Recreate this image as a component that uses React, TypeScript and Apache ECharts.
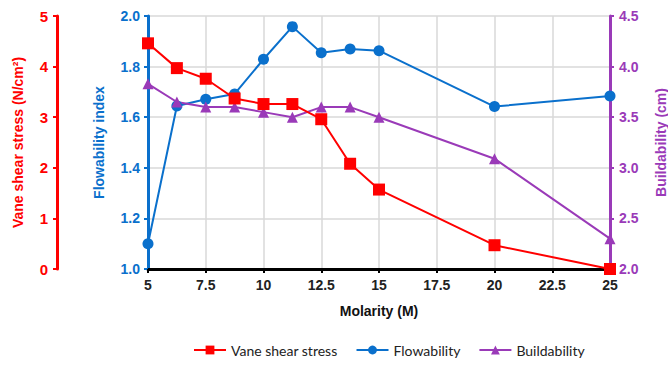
import React, { useEffect, useRef } from "react";
import * as echarts from "echarts";

const molarity = [5, 6.25, 7.5, 8.75, 10, 11.25, 12.5, 13.75, 15, 20, 25];
const vaneShear = [4.46, 3.97, 3.76, 3.37, 3.26, 3.26, 2.96, 2.08, 1.57, 0.47, 0.0];
const flowability = [1.1, 1.644, 1.671, 1.692, 1.829, 1.958, 1.855, 1.87, 1.863, 1.642, 1.684];
const buildability = [3.83, 3.65, 3.6, 3.6, 3.55, 3.5, 3.6, 3.6, 3.5, 3.09, 2.3];

const RED = "#ff0000";
const BLUE = "#0a70cc";
const PURPLE = "#9a3ab8";

export default function App() {
  const ref = useRef<HTMLDivElement>(null);
  useEffect(() => {
    if (!ref.current) return;
    const chart = echarts.init(ref.current, null, { renderer: "svg" });
    const pair = (ys: number[]) => molarity.map((x, i) => [x, ys[i]]);
    const labelFont = { fontFamily: "Liberation Sans", fontWeight: "bold" as const, fontSize: 14 };
    chart.setOption({
      animation: false,
      grid: {
        left: 148,
        right: 58,
        top: 16,
        bottom: 96,
        containLabel: false,
        outerBoundsMode: "none",
      },
      legend: {
        bottom: 3,
        left: 188,
        itemWidth: 32,
        itemHeight: 11,
        itemGap: 18,
        textStyle: { fontFamily: "Lato", fontSize: 14, color: "#222" },
        data: ["Vane shear stress", "Flowability", "Buildability"],
      },
      xAxis: {
        type: "value",
        min: 5,
        max: 25,
        interval: 2.5,
        name: "Molarity (M)",
        nameLocation: "middle",
        nameGap: 35,
        nameTextStyle: { ...labelFont, color: "#111", fontSize: 14 },
        axisLine: { show: true, lineStyle: { color: "#000", width: 3 } },
        axisTick: { show: true, length: 4, lineStyle: { color: "#000", width: 2 } },
        axisLabel: { ...labelFont, color: "#222", margin: 9 },
        splitLine: { show: true, lineStyle: { color: "#d9d9d9", width: 1.5 } },
      },
      yAxis: [
        {
          type: "value",
          position: "left",
          offset: 91,
          min: 0,
          max: 5,
          interval: 1,
          name: "Vane shear stress (N/cm²)",
          nameLocation: "middle",
          nameRotate: 90,
          nameGap: 32,
          nameTextStyle: { ...labelFont, color: RED },
          axisLine: { show: true, lineStyle: { color: RED, width: 3 } },
          axisTick: { show: true, length: 4, lineStyle: { color: RED, width: 2 } },
          axisLabel: { ...labelFont, color: RED, fontSize: 15, margin: 9 },
          splitLine: { show: false },
        },
        {
          type: "value",
          position: "left",
          offset: 0,
          min: 1,
          max: 2,
          interval: 0.2,
          name: "Flowability index",
          nameLocation: "middle",
          nameRotate: 90,
          nameGap: 42,
          nameTextStyle: { ...labelFont, color: BLUE },
          axisLine: { show: true, lineStyle: { color: BLUE, width: 3 } },
          axisTick: { show: true, length: 4, lineStyle: { color: BLUE, width: 2 } },
          axisLabel: {
            ...labelFont,
            color: BLUE,
            margin: 8,
            formatter: (v: number) => v.toFixed(1),
          },
          splitLine: { show: true, lineStyle: { color: "#d9d9d9", width: 1.5 } },
        },
        {
          type: "value",
          position: "right",
          min: 2,
          max: 4.5,
          interval: 0.5,
          name: "Buildability (cm)",
          nameLocation: "middle",
          nameRotate: 90,
          nameGap: 44,
          nameTextStyle: { ...labelFont, color: PURPLE },
          axisLine: { show: true, lineStyle: { color: PURPLE, width: 3 } },
          axisTick: { show: true, length: 4, lineStyle: { color: PURPLE, width: 2 } },
          axisLabel: {
            ...labelFont,
            color: PURPLE,
            margin: 9,
            formatter: (v: number) => v.toFixed(1),
          },
          splitLine: { show: false },
        },
      ],
      series: [
        {
          name: "Flowability",
          type: "line",
          yAxisIndex: 1,
          data: pair(flowability),
          symbol: "circle",
          symbolSize: 11,
          lineStyle: { color: BLUE, width: 2 },
          itemStyle: { color: BLUE },
          z: 3,
        },
        {
          name: "Buildability",
          type: "line",
          yAxisIndex: 2,
          data: pair(buildability),
          symbol: "triangle",
          symbolSize: 11,
          lineStyle: { color: PURPLE, width: 2 },
          itemStyle: { color: PURPLE },
          z: 3,
        },
        {
          name: "Vane shear stress",
          type: "line",
          yAxisIndex: 0,
          data: pair(vaneShear),
          symbol: "rect",
          symbolSize: 12,
          lineStyle: { color: RED, width: 2 },
          itemStyle: { color: RED },
          z: 4,
        },
      ],
    });
    return () => chart.dispose();
  }, []);
  return (
    <div
      ref={ref}
      style={{ position: "absolute", left: 0, top: 0, width: 668, height: 365 }}
    />
  );
}
